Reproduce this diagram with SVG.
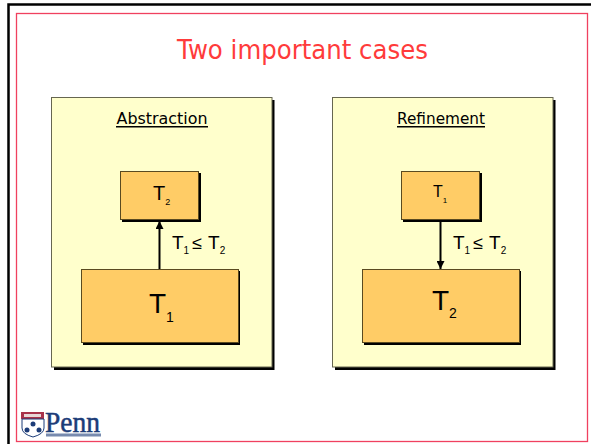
<svg xmlns="http://www.w3.org/2000/svg" width="591" height="444" viewBox="0 0 591 444">
<defs>
<style>
text{font-family:"Liberation Sans",sans-serif;fill:#000}
.head{font-family:"DejaVu Sans",sans-serif}
.panel{fill:#ffffcc;stroke:#666650;stroke-width:1}
.box{fill:#ffcc66;stroke:#5a4a20;stroke-width:1}
.shadow{fill:#000}
.conn{stroke:#000;stroke-width:2;fill:none}
</style>
<marker id="ah" markerUnits="userSpaceOnUse" markerWidth="9" markerHeight="8" refX="8" refY="4" orient="auto"><path d="M0 0L8 4L0 8Z" fill="#000"/></marker>
</defs>
<rect width="591" height="444" fill="#fff"/>
<path d="M8.500 444V4.500H591" fill="none" stroke="#000" stroke-width="2.500"/>
<rect x="16.500" y="13.500" width="571" height="428" fill="none" stroke="#f0405f" stroke-width="1.300"/>
<text class="head" x="302.500" y="59" text-anchor="middle" font-size="26" style="fill:#ff3b3b" textLength="251" lengthAdjust="spacingAndGlyphs">Two important cases</text>

<g id="panel-abstraction">
<rect class="shadow" x="54" y="100" width="220.500" height="270"/>
<rect class="panel" x="51.500" y="97.500" width="220.500" height="269.500"/>
<text class="head" x="162" y="124" text-anchor="middle" font-size="15" textLength="91" lengthAdjust="spacingAndGlyphs">Abstraction</text>
<rect x="116" y="126" width="92" height="1.500" fill="#000"/>
</g>
<g id="panel-refinement">
<rect class="shadow" x="335" y="100" width="220.500" height="270"/>
<rect class="panel" x="332.500" y="97.500" width="220.500" height="269.500"/>
<text class="head" x="441" y="124" text-anchor="middle" font-size="15" textLength="88" lengthAdjust="spacingAndGlyphs">Refinement</text>
<rect x="397" y="126" width="88" height="1.500" fill="#000"/>
</g>

<g id="connectors">
<line class="conn" x1="159.500" y1="269" x2="159.500" y2="221" marker-end="url(#ah)"/>
<line class="conn" x1="440.500" y1="221" x2="440.500" y2="269" marker-end="url(#ah)"/>
</g>

<g id="abs-t2">
<rect class="shadow" x="122" y="173" width="79" height="49"/>
<rect class="box" x="120.500" y="171.500" width="78" height="48"/>
<text x="153" y="200" font-size="20">T<tspan dy="5" font-size="9">2</tspan></text>
</g>
<g id="abs-t1">
<rect class="shadow" x="83" y="271" width="157" height="74"/>
<rect class="box" x="81.500" y="269.500" width="157" height="73"/>
<text x="149" y="313" font-size="28">T<tspan dy="9" font-size="14">1</tspan></text>
</g>
<g id="ref-t1">
<rect class="shadow" x="403" y="173" width="79" height="49"/>
<rect class="box" x="401.500" y="171.500" width="78" height="48"/>
<text x="433" y="197" font-size="16">T<tspan dy="6" font-size="8">1</tspan></text>
</g>
<g id="ref-t2">
<rect class="shadow" x="364" y="271" width="157" height="74"/>
<rect class="box" x="362.500" y="269.500" width="157" height="73"/>
<text x="432" y="310" font-size="28">T<tspan dy="8" font-size="14">2</tspan></text>
</g>

<g id="label-abs">
<text x="172" y="249" font-size="19">T<tspan dy="5" font-size="10">1</tspan><tspan dy="-5" dx="3" font-size="18">≤</tspan><tspan dx="6">T</tspan><tspan dy="5" font-size="10">2</tspan></text>
</g>
<g id="label-ref">
<text x="453" y="249" font-size="19">T<tspan dy="5" font-size="10">1</tspan><tspan dy="-5" dx="3" font-size="18">≤</tspan><tspan dx="6">T</tspan><tspan dy="5" font-size="10">2</tspan></text>
</g>

<g id="logo">
<rect x="21" y="412" width="23" height="7" fill="#a8324a"/>
<rect x="24" y="414" width="17" height="3" fill="#e8d8d8"/>
<path d="M22 419H44V428Q44 434 33 437Q22 434 22 428Z" fill="#fff" stroke="#1c3c78" stroke-width="1"/>
<circle cx="33" cy="424" r="2.500" fill="#1c3c78"/>
<circle cx="27" cy="430" r="2.500" fill="#1c3c78"/>
<circle cx="39" cy="430" r="2.500" fill="#1c3c78"/>
<text x="45" y="432" font-size="30" textLength="55" lengthAdjust="spacingAndGlyphs" stroke="#1c3c78" stroke-width=".5" style="font-family:'Liberation Serif',serif;fill:#1c3c78">Penn</text>
<rect x="46" y="433.500" width="55" height="3" fill="#1c3c78" opacity=".6"/>
</g>
</svg>
